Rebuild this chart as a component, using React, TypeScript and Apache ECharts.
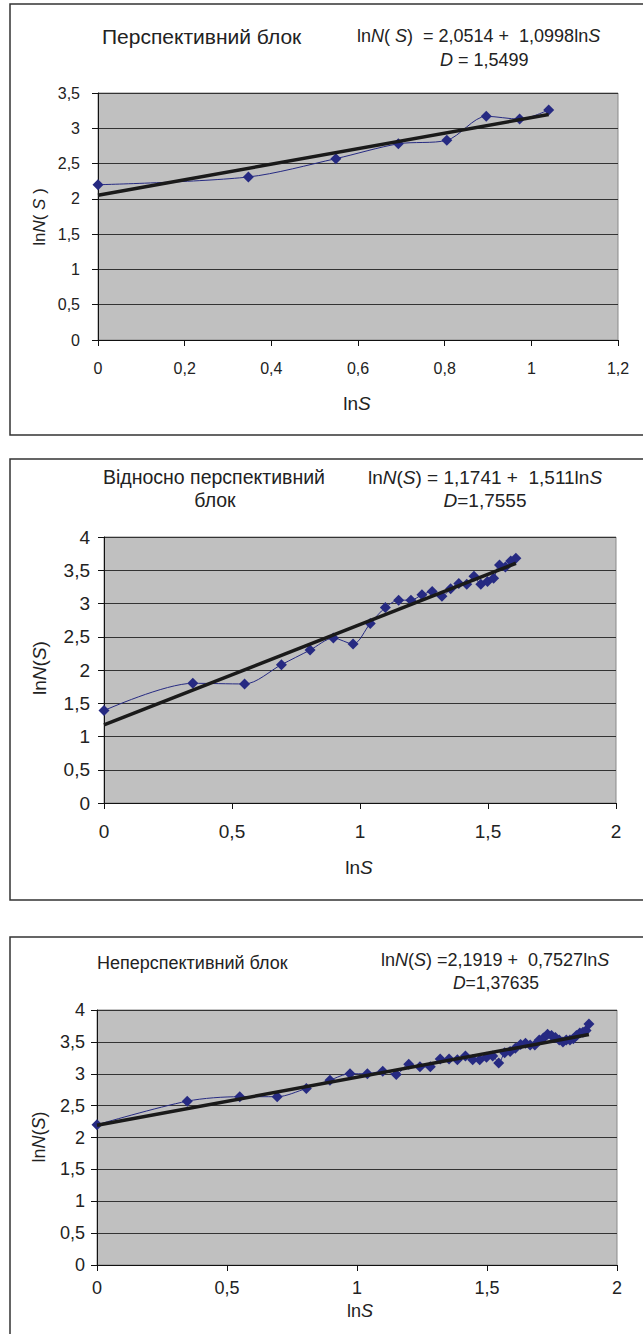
import React, { useEffect, useRef } from "react";
import * as echarts from "echarts";

// Panel 1 — Перспективний блок
const p1X = [0, 0.347, 0.549, 0.693, 0.805, 0.896, 0.973, 1.04];
const p1Y = [2.2, 2.31, 2.57, 2.78, 2.83, 3.17, 3.13, 3.26];
const p1Trend = { a: 2.0514, b: 1.0998 };

// Panel 2 — Відносно перспективний блок
const p2X = [0, 0.347, 0.549, 0.693, 0.805, 0.896, 0.973, 1.04, 1.099, 1.151, 1.199, 1.242, 1.282, 1.32, 1.354, 1.386, 1.417, 1.445, 1.472, 1.498, 1.522, 1.545, 1.568, 1.589, 1.609];
const p2Y = [1.39, 1.8, 1.79, 2.08, 2.3, 2.48, 2.39, 2.7, 2.94, 3.05, 3.05, 3.13, 3.18, 3.11, 3.22, 3.3, 3.29, 3.41, 3.29, 3.33, 3.38, 3.58, 3.55, 3.64, 3.68];
const p2Trend = { a: 1.1741, b: 1.511 };

// Panel 3 — Неперспективний блок
const p3X = [0, 0.347, 0.549, 0.693, 0.805, 0.896, 0.973, 1.04, 1.099, 1.151, 1.199, 1.242, 1.282, 1.32, 1.354, 1.386, 1.417, 1.445, 1.472, 1.498, 1.522, 1.545, 1.568, 1.589, 1.609, 1.629, 1.648, 1.666, 1.684, 1.701, 1.717, 1.733, 1.748, 1.763, 1.778, 1.792, 1.805, 1.819, 1.832, 1.844, 1.857, 1.869, 1.881, 1.892];
const p3Y = [2.2, 2.57, 2.64, 2.64, 2.77, 2.9, 3.0, 3.0, 3.04, 2.99, 3.15, 3.11, 3.11, 3.23, 3.23, 3.22, 3.28, 3.22, 3.22, 3.26, 3.28, 3.17, 3.33, 3.35, 3.4, 3.46, 3.48, 3.45, 3.45, 3.53, 3.56, 3.62, 3.6, 3.57, 3.53, 3.5, 3.53, 3.53, 3.55, 3.6, 3.64, 3.65, 3.68, 3.78];
const p3Trend = { a: 2.1919, b: 0.7527 };

const FONT = "'Liberation Sans', Arial, sans-serif";
const TXT = "#222";
const MARK = "#262a82";

function zip(xs: number[], ys: number[]) {
  return xs.map((x, i) => [x, ys[i]]);
}
function trendLine(t: { a: number; b: number }, xs: number[]) {
  const x1 = xs[xs.length - 1];
  return [
    [0, t.a],
    [x1, t.a + t.b * x1],
  ];
}
const fmt = (v: number) => String(Math.round(v * 10) / 10).replace(".", ",");

function txt(x: number, y: number, text: string, size: number, align = "left", rotation = 0) {
  return {
    type: "text",
    x,
    y,
    rotation,
    silent: true,
    style: {
      text,
      fontSize: size,
      fontFamily: FONT,
      fill: TXT,
      align,
      textAlign: align,
      verticalAlign: "middle",
      textVerticalAlign: "middle",
      rich: {
        i: { fontStyle: "italic", fontSize: size, fontFamily: FONT, fill: TXT },
      },
    },
  };
}

function frame(y: number, h: number) {
  return {
    type: "rect",
    silent: true,
    shape: { x: 10, y, width: 640, height: h },
    style: { fill: "none", stroke: "#333", lineWidth: 1.5 },
  };
}

function xAxisCfg(idx: number, max: number, interval: number, size: number, margin: number) {
  return {
    type: "value",
    gridIndex: idx,
    min: 0,
    max,
    interval,
    axisLine: { show: true, lineStyle: { color: "#111", width: 1 } },
    axisTick: { show: true, inside: false, length: 6, lineStyle: { color: "#111" } },
    axisLabel: { fontSize: size, fontFamily: FONT, color: TXT, margin, formatter: fmt },
    splitLine: { show: false },
  };
}
function yAxisCfg(idx: number, max: number, size: number, margin: number) {
  return {
    type: "value",
    gridIndex: idx,
    min: 0,
    max,
    interval: 0.5,
    axisLine: { show: true, lineStyle: { color: "#111", width: 1 } },
    axisTick: { show: true, inside: false, length: 6, lineStyle: { color: "#111" } },
    axisLabel: { fontSize: size, fontFamily: FONT, color: TXT, margin, formatter: fmt },
    splitLine: { show: true, lineStyle: { color: "#333", width: 1 } },
  };
}

function dataSeries(idx: number, xs: number[], ys: number[]) {
  return {
    type: "line",
    xAxisIndex: idx,
    yAxisIndex: idx,
    data: zip(xs, ys),
    smooth: 0.3,
    symbol: "diamond",
    symbolSize: 11,
    itemStyle: { color: MARK },
    lineStyle: { color: MARK, width: 1 },
    z: 2,
  };
}
function trendSeries(idx: number, t: { a: number; b: number }, xs: number[]) {
  return {
    type: "line",
    xAxisIndex: idx,
    yAxisIndex: idx,
    data: trendLine(t, xs),
    symbol: "none",
    lineStyle: { color: "#1a1a1a", width: 3.5 },
    z: 3,
  };
}

const gridStyle = { show: true, backgroundColor: "#c0c0c0", borderColor: "#8a8a8a", borderWidth: 1 };

export default function App() {
  const ref = useRef<HTMLDivElement>(null);
  useEffect(() => {
    if (!ref.current) return;
    const chart = echarts.init(ref.current, null, { renderer: "svg" });
    chart.setOption({
      animation: false,
      backgroundColor: "#fff",
      grid: [
        { left: 98, top: 93, width: 520, height: 247, ...gridStyle },
        { left: 104, top: 537, width: 512, height: 266, ...gridStyle },
        { left: 97, top: 1010, width: 520, height: 255, ...gridStyle },
      ],
      xAxis: [
        xAxisCfg(0, 1.2, 0.2, 16, 20),
        xAxisCfg(1, 2, 0.5, 19, 19),
        xAxisCfg(2, 2, 0.5, 18, 14),
      ],
      yAxis: [yAxisCfg(0, 3.5, 16, 18), yAxisCfg(1, 4, 19, 14), yAxisCfg(2, 4, 18, 12)],
      series: [
        dataSeries(0, p1X, p1Y),
        trendSeries(0, p1Trend, p1X),
        dataSeries(1, p2X, p2Y),
        trendSeries(1, p2Trend, p2X),
        dataSeries(2, p3X, p3Y),
        trendSeries(2, p3Trend, p3X),
      ],
      graphic: [
        frame(4, 431),
        frame(459, 441),
        frame(937, 420),
        // panel 1
        txt(102, 36, "Перспективний блок", 21),
        txt(357, 36, "ln{i|N}( {i|S})  = 2,0514 +  1,0998ln{i|S}", 18),
        txt(440, 60, "{i|D} = 1,5499", 18),
        txt(39, 217, "ln{i|N}( {i|S} )", 17, "center", Math.PI / 2),
        txt(357, 403, "ln{i|S}", 19, "center"),
        // panel 2
        txt(214, 477, "Відносно перспективний", 19.5, "center"),
        txt(215, 500, "блок", 19.5, "center"),
        txt(485, 477, "ln{i|N}({i|S}) = 1,1741 +  1,511ln{i|S}", 19, "center"),
        txt(485, 500, "{i|D}=1,7555", 19, "center"),
        txt(39, 668, "ln{i|N}({i|S})", 19, "center", Math.PI / 2),
        txt(359, 867, "ln{i|S}", 19, "center"),
        // panel 3
        txt(97, 963, "Неперспективний блок", 18),
        txt(381, 960, "ln{i|N}({i|S}) =2,1919 +  0,7527ln{i|S}", 18),
        txt(496, 983, "{i|D}=1,37635", 17.5, "center"),
        txt(39, 1137, "ln{i|N}({i|S})", 18, "center", Math.PI / 2),
        txt(360, 1311, "ln{i|S}", 18, "center"),
      ],
    });
    return () => chart.dispose();
  }, []);
  return (
    <div
      ref={ref}
      style={{ position: "absolute", left: 0, top: 0, width: 643, height: 1334 }}
    />
  );
}
